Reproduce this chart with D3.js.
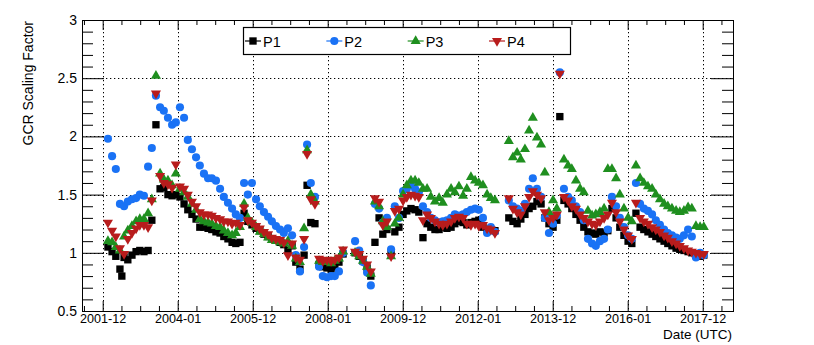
<!DOCTYPE html>
<html>
<head>
<meta charset="utf-8">
<script src="https://cdn.jsdelivr.net/npm/d3@7"></script>
<style>
  body { margin: 0; background: #fff; }
  text { font-family: "Liberation Sans", Arial, Helvetica, sans-serif; fill: #000; }
</style>
</head>
<body>
<div id="chart"></div>
<script>
// ---- data (decimal year of each sample, then one value list per panel) ----
var dates = [
  2002.14, 2002.25, 2002.35, 2002.46, 2002.51, 2002.57, 2002.67, 2002.78, 2002.89, 2002.99,
  2003.10, 2003.21, 2003.31, 2003.42, 2003.53, 2003.63, 2003.74, 2003.85, 2003.95, 2004.06,
  2004.17, 2004.27, 2004.38, 2004.49, 2004.59, 2004.70, 2004.81, 2004.91, 2005.02, 2005.13,
  2005.23, 2005.34, 2005.45, 2005.55, 2005.66, 2005.77, 2005.87, 2005.98, 2006.09, 2006.19,
  2006.30, 2006.41, 2006.51, 2006.62, 2006.73, 2006.83, 2006.94, 2007.05, 2007.15, 2007.26,
  2007.37, 2007.45, 2007.55, 2007.66, 2007.77, 2007.87, 2007.98, 2008.09, 2008.19, 2008.30,
  2008.41, 2008.73, 2008.84, 2008.94, 2009.05, 2009.15, 2009.26, 2009.37, 2009.47, 2009.58,
  2009.69, 2009.79, 2009.90, 2010.01, 2010.11, 2010.22, 2010.33, 2010.43, 2010.54, 2010.65,
  2010.75, 2010.86, 2010.97, 2011.07, 2011.18, 2011.29, 2011.39, 2011.50, 2011.61, 2011.71,
  2011.82, 2011.93, 2012.03, 2012.14, 2012.25, 2012.35, 2012.46, 2012.83, 2012.94, 2013.05,
  2013.15, 2013.26, 2013.37, 2013.47, 2013.58, 2013.69, 2013.79, 2013.90, 2014.01, 2014.11,
  2014.19, 2014.30, 2014.41, 2014.51, 2014.62, 2014.73, 2014.83, 2014.94, 2015.05, 2015.15,
  2015.26, 2015.37, 2015.47, 2015.58, 2015.69, 2015.79, 2015.90, 2016.01, 2016.11, 2016.22,
  2016.33, 2016.43, 2016.54, 2016.65, 2016.75, 2016.86, 2016.97, 2017.07, 2017.18, 2017.29,
  2017.39, 2017.50, 2017.61, 2017.71, 2017.82, 2017.93, 2018.03
];

var p1 = [
  1.05, 1.01, 0.97, 0.86, 0.80, 0.96, 0.94, 0.98, 1.01, 1.02,
  1.01, 1.02, 1.28, 2.10, 1.55, 1.56, 1.50, 1.49, 1.50, 1.48,
  1.42, 1.37, 1.33, 1.29, 1.22, 1.22, 1.21, 1.20, 1.18, 1.17,
  1.14, 1.12, 1.09, 1.08, 1.09, 1.34, 1.27, 1.24, 1.21, 1.19,
  1.16, 1.14, 1.12, 1.11, 1.09, 1.07, 1.02, 1.06, 0.92, 0.86,
  0.98, 1.58, 1.26, 1.25, 0.90, 0.88, 0.87, 0.86, 0.88, 0.92,
  0.99, 1.00, 0.97, 0.93, 0.87, 0.80, 1.09, 1.30, 1.16, 1.20,
  1.00, 1.18, 1.22, 1.33, 1.36, 1.38, 1.37, 1.35, 1.13, 1.25,
  1.22, 1.20, 1.20, 1.22, 1.21, 1.22, 1.25, 1.27, 1.26, 1.24,
  1.26, 1.27, 1.28, 1.22, 1.20, 1.20, 1.19, 1.30, 1.27, 1.25,
  1.29, 1.33, 1.38, 1.40, 1.44, 1.42, 1.30, 1.25, 1.22, 1.28,
  2.17, 1.45, 1.42, 1.38, 1.33, 1.28, 1.22, 1.18, 1.17, 1.16,
  1.18, 1.17, 1.19, 1.38, 1.30, 1.22, 1.15, 1.10, 1.08, 1.34,
  1.22, 1.20, 1.18, 1.16, 1.14, 1.12, 1.10, 1.08, 1.06, 1.04,
  1.03, 1.02, 1.01, 1.00, 0.98, 0.97, 0.98
];

var p2 = [
  1.98, 1.83, 1.72, 1.42, null, 1.40, 1.44, 1.46, 1.47, 1.50,
  1.49, 1.74, 1.90, 2.35, 2.25, 2.22, 2.16, 2.10, 2.12, 2.25,
  2.16, 1.97, 1.89, 1.82, 1.75, 1.68, 1.64, 1.64, 1.62, 1.55,
  1.48, 1.43, 1.38, 1.33, 1.30, 1.60, 1.50, 1.60, 1.46, 1.40,
  1.35, 1.31, 1.27, 1.23, 1.20, 1.17, 1.21, 1.15, 0.98, 0.84,
  1.05, 1.93, 1.60, 1.48, 0.88, 0.80, 0.79, 0.80, 0.80, 0.84,
  1.00, 1.10, 1.02, 0.92, 0.83, 0.72, 1.42, 1.38, 1.26, 1.30,
  1.03, 1.40, 1.30, 1.53, 1.55, 1.58, 1.55, 1.52, 1.40, 1.35,
  1.30, 1.28, 1.26, 1.27, 1.28, 1.30, 1.33, 1.32, 1.33, 1.35,
  1.37, 1.38, 1.37, 1.30, 1.17, 1.22, 1.18, 1.45, 1.40, 1.38,
  1.36, 1.42, 1.55, 1.64, 1.55, 1.48, 1.30, 1.17, 1.25, 1.32,
  2.55, 1.55, 1.48, 1.45, 1.40, 1.35, 1.28, 1.12, 1.08, 1.06,
  1.10, 1.12, 1.20, 1.48, 1.40, 1.30, 1.22, 1.15, 1.12, 1.60,
  1.42, 1.38, 1.36, 1.33, 1.28, 1.24, 1.20, 1.17, 1.15, 1.13,
  1.12, 1.15, 1.20, 1.14, 0.96, 1.00, 0.98
];

var p3 = [
  1.10, 1.09, 1.05, 1.02, null, 1.14, 1.19, 1.23, 1.27, 1.29,
  1.29, 1.34, 1.46, 2.52, 1.68, 1.63, 1.62, 1.58, 1.68, 1.55,
  1.52, 1.48, 1.42, 1.37, 1.29, 1.27, 1.26, 1.25, 1.23, 1.22,
  1.19, 1.17, 1.15, 1.17, 1.22, 1.42, 1.30, 1.26, 1.22, 1.18,
  1.16, 1.13, 1.11, 1.10, 1.09, 1.08, 1.10, 1.06, 0.95, 0.92,
  1.21, 1.88, 1.50, 1.44, 0.93, 0.92, 0.92, 0.91, 0.93, 0.95,
  1.01, 1.00, 0.97, 0.93, 0.88, 0.82, 1.44, 1.40, 1.27, 1.22,
  0.97, 1.25, 1.30, 1.50, 1.58, 1.62, 1.62, 1.60, 1.55, 1.55,
  1.48, 1.44, 1.47, 1.43, 1.50, 1.55, 1.52, 1.57, 1.49, 1.55,
  1.65, 1.62, 1.60, 1.58, 1.50, 1.47, 1.45, 1.96, 1.82, 1.86,
  1.80, 1.89, 2.05, 2.16, 1.99, 1.93, 1.69, 1.35, 1.45, 1.38,
  null, 1.80, 1.75, 1.72, 1.62, 1.55, 1.52, 1.36, 1.32, 1.33,
  1.35, 1.38, 1.72, 1.72, 1.64, 1.50, 1.38, 1.30, 1.27, 1.75,
  1.64, 1.60, 1.57, 1.55, 1.50, 1.46, 1.42, 1.40, 1.38, 1.36,
  1.35, 1.36, 1.39, 1.38, 1.23, 1.22, 1.22
];

var p4 = [
  1.26, 1.19, 1.14, 1.04, null, 0.99, 1.12, 1.17, 1.21, 1.24,
  1.24, 1.22, 1.45, 2.37, 1.66, 1.60, 1.59, 1.56, 1.76, 1.57,
  1.55, 1.50, 1.44, 1.40, 1.35, 1.33, 1.33, 1.32, 1.30, 1.29,
  1.27, 1.27, 1.25, 1.26, 1.24, 1.39, 1.28, 1.26, 1.23, 1.21,
  1.18, 1.16, 1.13, 1.12, 1.11, 1.09, 0.98, 1.08, 0.96, 0.94,
  1.12, 1.85, 1.46, 1.42, 0.95, 0.93, 0.94, 0.93, 0.94, 0.96,
  1.03, 1.01, 0.99, 0.95, 0.90, 0.84, 1.47, 1.44, 1.24, 1.27,
  0.97, 1.36, 1.38, 1.45, 1.48, 1.50, 1.49, 1.48, 1.28, 1.33,
  1.30, 1.27, 1.25, 1.24, 1.25, 1.27, 1.30, 1.31, 1.30, 1.25,
  1.24, 1.25, 1.23, 1.24, 1.21, 1.20, 1.17, 1.47, 1.38, 1.35,
  1.33, 1.40, 1.48, 1.53, 1.50, 1.47, 1.35, 1.28, 1.30, 1.33,
  2.54, 1.48, 1.45, 1.40, 1.38, 1.33, 1.30, 1.27, 1.25, 1.24,
  1.27, 1.30, 1.33, 1.43, 1.35, 1.27, 1.20, 1.15, 1.12, 1.43,
  1.30, 1.27, 1.25, 1.22, 1.20, 1.18, 1.15, 1.13, 1.10, 1.08,
  1.06, 1.04, 1.02, 1.01, 1.00, 0.99, 0.99
];

var seriesNames = ["P1", "P2", "P3", "P4"];
var xTickYears = [2002, 2004, 2006, 2008, 2010, 2012, 2014, 2016, 2018];
var xTickLabels = ["2001-12", "2004-01", "2005-12", "2008-01", "2009-12", "2012-01", "2013-12", "2016-01", "2017-12"];
var yTickValues = [0.5, 1, 1.5, 2, 2.5, 3];
var yTickLabels = ["0.5", "1", "1.5", "2", "2.5", "3"];

// ---- layout ----
var margin = { top: 20, right: 81, bottom: 34, left: 82 },
    width = 814 - margin.left - margin.right,
    height = 345 - margin.top - margin.bottom;

var svg = d3.select("#chart")
    .append("svg")
    .attr("width", 814)
    .attr("height", 345)
    .style("display", "block");

var g = svg.append("g")
    .attr("transform", "translate(" + margin.left + "," + margin.top + ")");

var x = d3.scaleLinear().domain([2001.448, 2018.808]).range([0, width]);
var y = d3.scaleLinear().domain([0.5, 3]).range([height, 0]);

var colors = ["#000000", "#1a72f5", "#1f8f1f", "#b81c1c"];
var symbols = [d3.symbolSquare, d3.symbolCircle, d3.symbolTriangle, d3.symbolTriangle];
var symSizes = [54, 52, 44, 44];
var symRot = [0, 0, 0, 180];

// minor tick positions
var xMinor = d3.range(2001.5, 2018.81, 0.5).filter(function (d) { return Math.abs(d % 2) > 0.01; });
var yMinor = d3.range(0.6, 3.0, 0.1).filter(function (d) { return Math.abs(d * 2 - Math.round(d * 2)) > 0.01; });

// ---- grid ----
var grid = g.append("g").attr("stroke", "#000").attr("stroke-width", 1).attr("stroke-dasharray", "1.3,2.7");
grid.selectAll("line.gx")
    .data(xTickYears)
    .enter().append("line")
    .attr("x1", function (d) { return Math.round(x(d)) + 0.5; })
    .attr("x2", function (d) { return Math.round(x(d)) + 0.5; })
    .attr("y1", 0).attr("y2", height);
grid.selectAll("line.gy")
    .data([1, 1.5, 2, 2.5])
    .enter().append("line")
    .attr("y1", function (d) { return Math.round(y(d)) + 0.5; })
    .attr("y2", function (d) { return Math.round(y(d)) + 0.5; })
    .attr("x1", 0).attr("x2", width);

// ---- axes ----
function styleAxis(sel) {
    sel.select(".domain").remove();
    sel.selectAll(".tick line").attr("stroke", "#000");
}

// bottom
g.append("g")
    .attr("transform", "translate(0," + height + ")")
    .call(d3.axisBottom(x).tickValues(xTickYears).tickSizeInner(-10).tickSizeOuter(0).tickPadding(3)
        .tickFormat(function (d, i) { return xTickLabels[i]; }))
    .call(styleAxis)
    .selectAll("text").style("font-size", "12.6px").attr("fill", "#000");
g.append("g")
    .attr("transform", "translate(0," + height + ")")
    .call(d3.axisBottom(x).tickValues(xMinor).tickSizeInner(-5).tickSizeOuter(0).tickFormat(""))
    .call(styleAxis);

// top
g.append("g")
    .call(d3.axisTop(x).tickValues(xTickYears).tickSizeInner(-10).tickSizeOuter(0).tickFormat(""))
    .call(styleAxis);
g.append("g")
    .call(d3.axisTop(x).tickValues(xMinor).tickSizeInner(-5).tickSizeOuter(0).tickFormat(""))
    .call(styleAxis);

// left
g.append("g")
    .call(d3.axisLeft(y).tickValues(yTickValues).tickSizeInner(-22).tickSizeOuter(0).tickPadding(5)
        .tickFormat(function (d, i) { return yTickLabels[i]; }))
    .call(styleAxis)
    .selectAll("text").style("font-size", "14px").attr("fill", "#000");
g.append("g")
    .call(d3.axisLeft(y).tickValues(yMinor).tickSizeInner(-11).tickSizeOuter(0).tickFormat(""))
    .call(styleAxis);

// right
g.append("g")
    .attr("transform", "translate(" + width + ",0)")
    .call(d3.axisRight(y).tickValues(yTickValues).tickSizeInner(-22).tickSizeOuter(0).tickFormat(""))
    .call(styleAxis);
g.append("g")
    .attr("transform", "translate(" + width + ",0)")
    .call(d3.axisRight(y).tickValues(yMinor).tickSizeInner(-11).tickSizeOuter(0).tickFormat(""))
    .call(styleAxis);

// frame
g.append("rect")
    .attr("x", 0.5).attr("y", 0.5)
    .attr("width", width).attr("height", height)
    .attr("fill", "none").attr("stroke", "#000").attr("stroke-width", 1);

// ---- markers ----
var allSeries = [p1, p2, p3, p4];
allSeries.forEach(function (vals, si) {
    var pts = dates.map(function (d, i) { return { t: d, v: vals[i] }; })
        .filter(function (d) { return d.v !== null; });
    var sym = d3.symbol().type(symbols[si]).size(symSizes[si]);
    g.append("g").selectAll("path")
        .data(pts)
        .enter().append("path")
        .attr("d", sym)
        .attr("transform", function (d) {
            return "translate(" + x(d.t) + "," + y(d.v) + ")" + (symRot[si] ? " rotate(" + symRot[si] + ")" : "");
        })
        .attr("fill", colors[si]);
});

// ---- axis titles ----
svg.append("text")
    .attr("text-anchor", "end")
    .attr("x", 732)
    .attr("y", 339)
    .style("font-size", "13.5px")
    .text("Date (UTC)");

svg.append("text")
    .attr("text-anchor", "end")
    .attr("transform", "translate(33,21) rotate(-90)")
    .style("font-size", "14px")
    .text("GCR Scaling Factor");

// ---- legend ----
var legend = svg.append("g");
legend.append("rect")
    .attr("x", 243.5).attr("y", 27.5)
    .attr("width", 327).attr("height", 27)
    .attr("fill", "#fff").attr("stroke", "#000").attr("stroke-width", 1.2);

var lx = d3.scalePoint().domain(seriesNames).range([253, 497]);
var entries = legend.selectAll("g.entry")
    .data(seriesNames)
    .enter().append("g")
    .attr("transform", function (d) { return "translate(" + lx(d) + ",41)"; });
entries.append("line")
    .attr("x1", -8).attr("x2", 8)
    .attr("stroke", function (d, i) { return colors[i]; })
    .attr("stroke-width", 1.2);
entries.append("path")
    .attr("d", function (d, i) { return d3.symbol().type(symbols[i]).size(symSizes[i])(); })
    .attr("transform", function (d, i) { return symRot[i] ? "rotate(" + symRot[i] + ")" : null; })
    .attr("fill", function (d, i) { return colors[i]; });
entries.append("text")
    .attr("x", 10)
    .attr("y", 6)
    .style("font-size", "14.5px")
    .text(function (d) { return d; });
</script>
</body>
</html>
